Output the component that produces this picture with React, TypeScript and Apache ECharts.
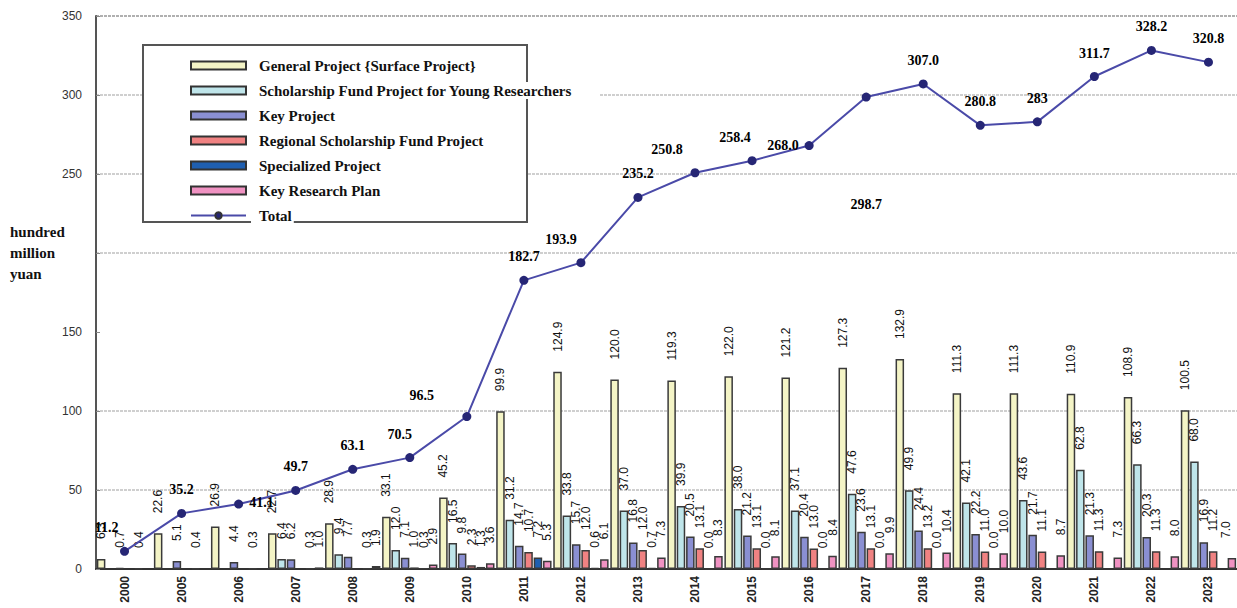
import React, { useEffect, useRef } from 'react';
import * as echarts from 'echarts';

const years = ['2000', '2005', '2006', '2007', '2008', '2009', '2010', '2011', '2012', '2013', '2014', '2015', '2016', '2017', '2018', '2019', '2020', '2021', '2022', '2023'];

const generalProject = [6.3, 22.6, 26.9, 22.7, 28.9, 33.1, 45.2, 99.9, 124.9, 120.0, 119.3, 122.0, 121.2, 127.3, 132.9, 111.3, 111.3, 110.9, 108.9, 100.5];
const youngScholarship = [null, null, null, 6.4, 9.4, 12.0, 16.5, 31.2, 33.8, 37.0, 39.9, 38.0, 37.1, 47.6, 49.9, 42.1, 43.6, 62.8, 66.3, 68.0];
const keyProject = [0.7, 5.1, 4.4, 6.2, 7.7, 7.1, 9.8, 14.7, 15.7, 16.8, 20.5, 21.2, 20.4, 23.6, 24.4, 22.2, 21.7, 21.3, 20.3, 16.9];
const regionalFund = [null, null, null, null, null, 1.0, 2.3, 10.7, 12.0, 12.0, 13.1, 13.1, 13.0, 13.1, 13.2, 11.0, 11.1, 11.3, 11.3, 11.2];
const specializedProject = [0.4, 0.4, 0.3, 0.3, 0.3, 0.3, 1.3, 7.2, 0.6, 0.7, 0.0, 0.0, 0.0, 0.0, 0.0, 0.0, null, null, null, null];
const keyResearchPlan = [null, null, null, 1.0, 1.9, 2.9, 3.6, 5.3, 6.1, 7.3, 8.3, 8.1, 8.4, 9.9, 10.4, 10.0, 8.7, 7.3, 8.0, 7.0];
const totalLabels = ['11.2', '35.2', '41.1', '49.7', '63.1', '70.5', '96.5', '182.7', '193.9', '235.2', '250.8', '258.4', '268.0', '298.7', '307.0', '280.8', '283', '311.7', '328.2', '320.8'];
const total = totalLabels.map(Number);

const yTickHidden = 200;

const seriesNames = [
  'General Project {Surface Project}',
  'Scholarship Fund Project for Young Researchers',
  'Key Project',
  'Regional Scholarship Fund Project',
  'Specialized Project',
  'Key Research Plan',
  'Total',
];

const barColors = ['#f4f4c6', '#bfe5ea', '#8a8fd2', '#f08282', '#1f5fb0', '#f092c2'];

// label placement overrides for the Total line (by point index)
const totalLabelStyle: Record<number, any> = {
  0: { offset: [-18, 0] },
  2: { position: 'right', distance: 6, offset: [0, -2] },
  5: { offset: [-10, 0] },
  6: { offset: [-45, 2] },
  8: { offset: [-20, 0] },
  10: { offset: [-28, 0] },
  11: { offset: [-17, 0] },
  12: { position: 'left', distance: 6 },
  13: { position: 'bottom', distance: 96 },
};

export default function App() {
  const ref = useRef<HTMLDivElement>(null);

  useEffect(() => {
    document.body.style.margin = '0';
    if (!ref.current) return;
    const chart = echarts.init(ref.current, undefined, { renderer: 'svg' });

    const barLabel = {
      show: true,
      position: 'top',
      rotate: 90,
      align: 'left',
      verticalAlign: 'middle',
      distance: 20,
      fontFamily: '"Liberation Sans", Arial, sans-serif',
      fontSize: 12,
      color: '#111',
      formatter: (p: any) => (p.value == null ? '' : Number(p.value).toFixed(1)),
    };

    const barData = [generalProject, youngScholarship, keyProject, regionalFund, specializedProject, keyResearchPlan];

    const barSeries = barData.map((d, i) => ({
      name: seriesNames[i],
      type: 'bar',
      data: d.map((v, j) =>
        i === 5 && j === d.length - 1
          ? { value: v, label: { verticalAlign: 'bottom', offset: [0, 0] } }
          : v
      ),
      barCategoryGap: '3%',
      barGap: '10%',
      itemStyle: { color: barColors[i], borderColor: '#3a3a3a', borderWidth: 1.5 },
      label: barLabel,
      z: 2,
    }));

    const lineData = total.map((v, i) => ({
      value: v,
      label: totalLabelStyle[i] ? { ...totalLabelStyle[i] } : undefined,
    }));

    const option: any = {
      animation: false,
      backgroundColor: '#ffffff',
      grid: { left: 96, top: 16, width: 1145, height: 553, containLabel: false },
      legend: {
        orient: 'vertical',
        left: 185,
        top: 52,
        itemWidth: 55,
        itemHeight: 8,
        itemGap: 8,
        data: seriesNames.map((n, i) => (i < 6 ? { name: n, icon: 'rect' } : { name: n })),
        itemStyle: { borderColor: '#333', borderWidth: 2 },
        textStyle: {
          fontFamily: '"Liberation Serif", "Times New Roman", serif',
          fontWeight: 'bold',
          fontSize: 15,
          color: '#111',
          lineHeight: 17,
          backgroundColor: '#fff',
          padding: [0, 2, 0, 8],
        },
        z: 10,
      },
      xAxis: {
        type: 'category',
        data: years,
        axisLine: { show: true, lineStyle: { color: '#333', width: 2 } },
        axisTick: { show: false },
        axisLabel: {
          rotate: 90,
          fontFamily: '"Liberation Sans", Arial, sans-serif',
          fontSize: 12,
          fontWeight: 'bold',
          color: '#222',
          margin: 7,
        },
        splitLine: { show: false },
      },
      yAxis: {
        type: 'value',
        min: 0,
        max: 350,
        interval: 50,
        axisLine: { show: true, lineStyle: { color: '#555', width: 2 } },
        axisTick: { show: true, inside: true, length: 4, lineStyle: { color: '#888' } },
        axisLabel: {
          formatter: (v: number) => (v === yTickHidden ? '' : String(v)),
          fontFamily: '"Liberation Sans", Arial, sans-serif',
          fontSize: 12,
          color: '#333',
          margin: 14,
        },
        splitLine: {
          show: true,
          lineStyle: {
            color: ['#cfcfcf', '#cfcfcf', '#cfcfcf', 'rgba(0,0,0,0)', '#cfcfcf', '#cfcfcf', '#cfcfcf', '#b0b0b0'],
            width: 2,
            type: [3, 1],
          },
        },
      },
      graphic: {
        elements: [
          {
            type: 'rect',
            z: 5,
            shape: { x: 143, y: 45, width: 384, height: 177 },
            style: { fill: '#fff', stroke: '#555', lineWidth: 2 },
          },
          {
            type: 'rect',
            z: 5,
            shape: { x: 528, y: 74, width: 72, height: 25 },
            style: { fill: '#fff', stroke: 'none' },
          },
          {
            type: 'text',
            z: 5,
            left: 10,
            top: 221,
            style: {
              text: 'hundred\nmillion\nyuan',
              font: 'bold 15px "Liberation Serif", "Times New Roman", serif',
              fill: '#111',
              lineHeight: 21,
            },
          },
        ],
      },
      series: [
        ...barSeries,
        {
          name: seriesNames[6],
          type: 'line',
          data: lineData,
          z: 4,
          symbol: 'circle',
          symbolSize: 9,
          lineStyle: { color: '#4a4aa8', width: 2 },
          itemStyle: { color: '#262675' },
          label: {
            show: true,
            position: 'top',
            distance: 12,
            fontFamily: '"Liberation Serif", "Times New Roman", serif',
            fontWeight: 'bold',
            fontSize: 14,
            color: '#000',
            formatter: (p: any) => totalLabels[p.dataIndex],
          },
        },
      ],
    };

    chart.setOption(option);
    return () => chart.dispose();
  }, []);

  return <div ref={ref} style={{ width: 1237, height: 608 }} />;
}
